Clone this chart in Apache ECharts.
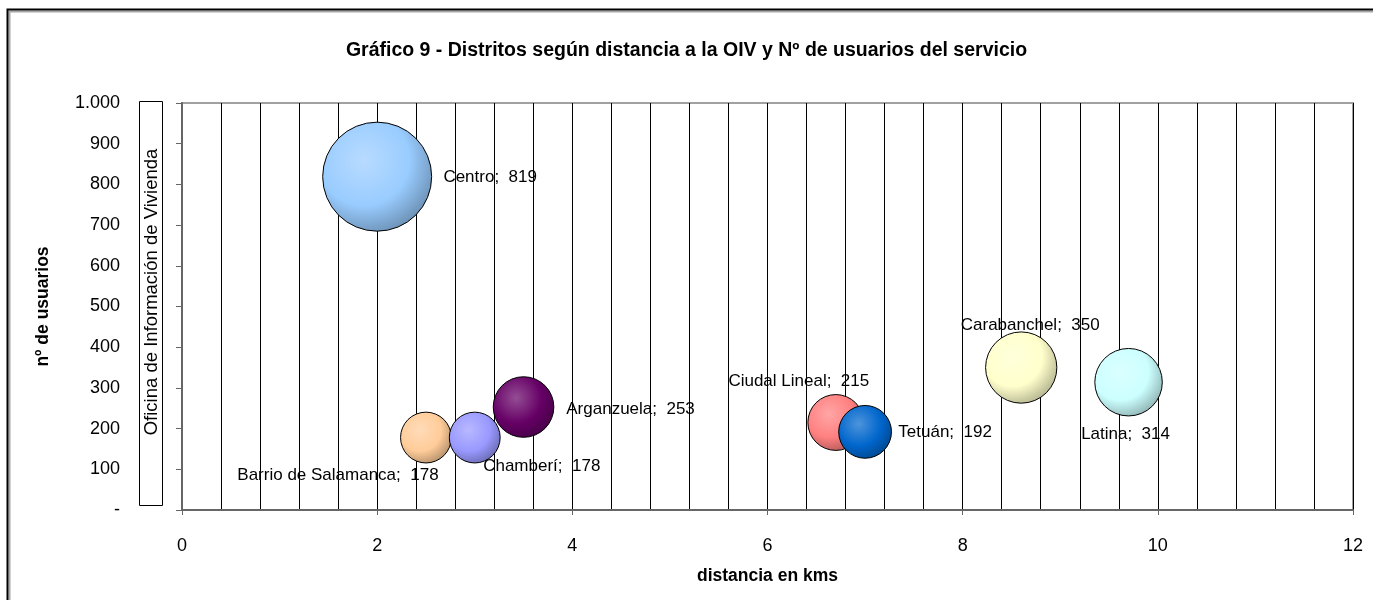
<!DOCTYPE html>
<html>
<head>
<meta charset="utf-8">
<script src="https://cdn.jsdelivr.net/npm/echarts@6/dist/echarts.min.js"></script>
<style>
  html, body { margin: 0; padding: 0; background: #fff; }
  #renderChart { width: 1373px; height: 600px; }
</style>
</head>
<body>
<div id="renderChart"></div>
<script>
// data
const districts = ['Centro', 'Barrio de Salamanca', 'Chamberí', 'Arganzuela', 'Ciudal Lineal', 'Tetuán', 'Carabanchel', 'Latina'];
const distanceKm = [2.0, 2.5, 3.0, 3.5, 6.7, 7.0, 8.6, 9.7];
const users = [819, 178, 178, 253, 215, 192, 350, 314];
const xTicks = [0, 2, 4, 6, 8, 10, 12];
const yTicks = [0, 100, 200, 300, 400, 500, 600, 700, 800, 900, 1000];

// styling
const bubbleColors = ['#99CCFF', '#FFCC99', '#9999FF', '#660066', '#FF8080', '#0066CC', '#FFFFCC', '#CCFFFF'];
const labelOffsets = [[113, 1], [-88, 38], [67, 29], [107, 2], [-37, -41], [80, 0], [9, -42], [-3, 52]];
const FONT = '"Liberation Sans", Arial, sans-serif';
const MAX_DIAM = 109;

function shade(hex, f) {
  const n = parseInt(hex.slice(1), 16);
  let c = [(n >> 16) & 255, (n >> 8) & 255, n & 255];
  c = c.map(v => f >= 0 ? Math.round(v + (255 - v) * f) : Math.round(v * (1 + f)));
  return 'rgb(' + c.join(',') + ')';
}

function bubbleFill(hex) {
  return {
    type: 'radial', x: 0.38, y: 0.35, r: 0.75,
    colorStops: [
      { offset: 0, color: shade(hex, 0.3) },
      { offset: 0.55, color: hex },
      { offset: 1, color: shade(hex, -0.35) }
    ]
  };
}

const yLabel = v => v === 0 ? '-' : (v >= 1000 ? (v / 1000) + '.' + String(v % 1000).padStart(3, '0') : String(v));

const seriesData = districts.map((name, i) => ({
  name: name,
  value: [distanceKm[i], users[i]],
  itemStyle: { color: bubbleFill(bubbleColors[i]) },
  label: { offset: labelOffsets[i] }
}));

const myChart = echarts.init(document.getElementById('renderChart'));

const option = {
  animation: false,
  backgroundColor: '#fff',
  title: {
    text: 'Gráfico 9 - Distritos según distancia a la OIV y Nº de usuarios del servicio',
    left: 'center',
    top: 36,
    textStyle: { fontFamily: FONT, fontSize: 19.5, fontWeight: 'bold', color: '#000' }
  },
  grid: {
    left: 182, right: 20, top: 103, bottom: 90,
    show: true, borderColor: '#a0a0a0', borderWidth: 2, backgroundColor: 'transparent'
  },
  xAxis: [
    {
      type: 'value', min: 0, max: 12, interval: 0.4,
      axisLine: { show: false }, axisTick: { show: false }, axisLabel: { show: false },
      splitLine: { show: true, lineStyle: { color: '#000', width: 1 } }
    },
    {
      type: 'value', min: xTicks[0], max: xTicks[xTicks.length - 1], interval: 2,
      position: 'bottom',
      name: 'distancia en kms', nameLocation: 'middle', nameGap: 57,
      nameTextStyle: { fontFamily: FONT, fontSize: 17.5, fontWeight: 'bold', color: '#000' },
      axisLine: { show: true, onZero: false, lineStyle: { color: '#666', width: 2 } },
      axisTick: { show: true, length: 5, lineStyle: { color: '#666' } },
      axisLabel: { fontFamily: FONT, fontSize: 18, color: '#000', margin: 27 },
      splitLine: { show: false }
    }
  ],
  yAxis: {
    type: 'value', min: yTicks[0], max: yTicks[yTicks.length - 1], interval: 100,
    name: 'nº de usuarios', nameLocation: 'middle', nameGap: 130, nameRotate: 90,
    nameTextStyle: { fontFamily: FONT, fontSize: 17.5, fontWeight: 'bold', color: '#000' },
    axisLine: { show: true, onZero: false, lineStyle: { color: '#666', width: 2 } },
    axisTick: { show: true, length: 6, lineStyle: { color: '#666' } },
    axisLabel: { fontFamily: FONT, fontSize: 18, color: '#000', margin: 62, formatter: yLabel },
    splitLine: { show: false }
  },
  series: [{
    type: 'scatter',
    xAxisIndex: 0,
    data: seriesData,
    symbolSize: val => MAX_DIAM * Math.sqrt(val[1] / users[0]),
    itemStyle: { borderColor: '#000', borderWidth: 1, opacity: 1 },
    label: {
      show: true,
      position: 'inside',
      fontFamily: FONT,
      fontSize: 17,
      color: '#000',
      formatter: p => p.name + ';  ' + p.value[1]
    },
    emphasis: { disabled: true }
  }],
  graphic: [
    {
      type: 'rect', z: -10, silent: true,
      shape: { x: 7.5, y: 9.5, width: 1420, height: 640 },
      style: { fill: 'none', stroke: '#000', lineWidth: 2, shadowColor: 'rgba(0,0,0,0.35)', shadowOffsetX: 2, shadowOffsetY: 2 }
    },
    {
      type: 'rect', silent: true, z: 10,
      shape: { x: 139.5, y: 101.5, width: 23, height: 404 },
      style: { fill: '#fff', stroke: '#000', lineWidth: 1 }
    },
    {
      type: 'text', silent: true, z: 11,
      x: 152, y: 292, rotation: Math.PI / 2,
      style: {
        text: 'Oficina de Información de Vivienda',
        font: '18.5px ' + FONT,
        fill: '#000',
        textAlign: 'center', textVerticalAlign: 'middle',
        align: 'center', verticalAlign: 'middle'
      }
    }
  ]
};

myChart.setOption(option);
</script>
</body>
</html>
